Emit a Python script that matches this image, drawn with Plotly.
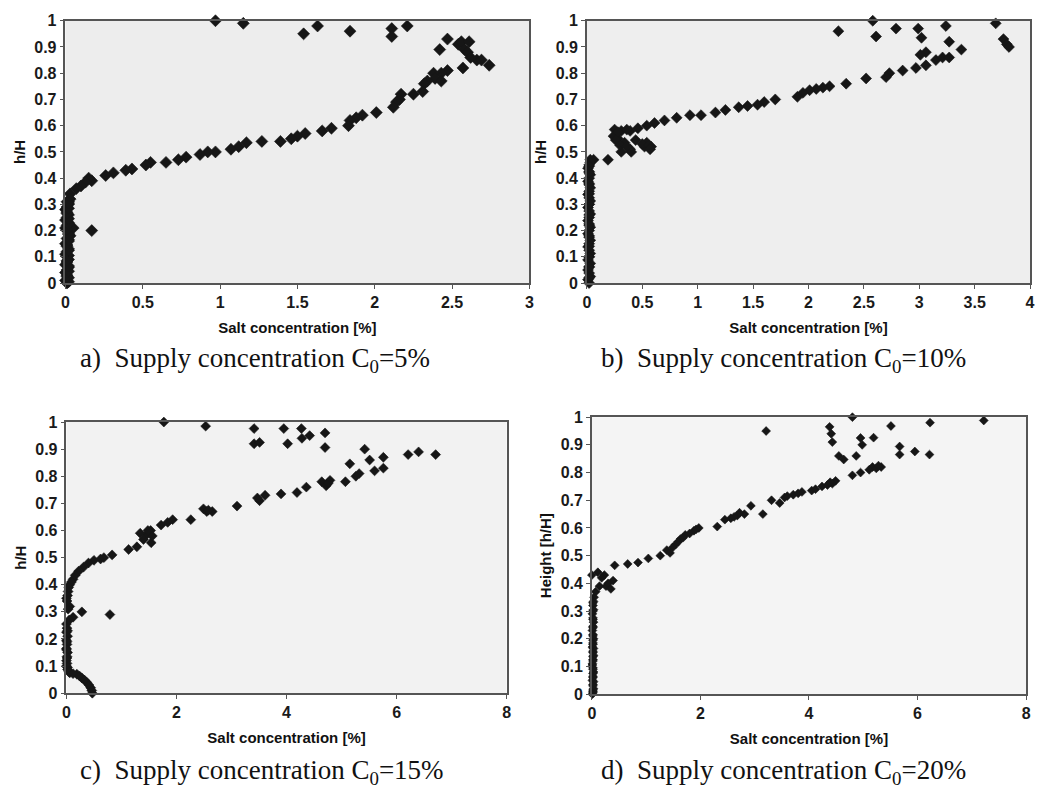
import plotly.graph_objects as go

# ---------------- data ----------------
# a) C0 = 5 %
a_x = [0.97, 1.15, 1.54, 1.63, 1.84, 2.11, 2.11, 2.21, 2.47, 2.42,
       2.54, 2.56, 2.61, 2.58, 2.60, 2.57, 2.66, 2.69, 2.74, 2.62,
       2.47, 2.43, 2.38, 2.39, 2.43, 2.34, 2.32, 2.31, 2.25, 2.17, 2.16, 2.14, 2.12,
       2.01, 1.92, 1.88, 1.84, 1.83, 1.72, 1.66, 1.55, 1.50, 1.46, 1.39, 1.27, 1.17,
       1.12, 1.07, 0.97, 0.92, 0.87, 0.78, 0.73, 0.65, 0.55, 0.52, 0.43, 0.39, 0.31,
       0.26, 0.17, 0.15, 0.13, 0.10, 0.07, 0.03, 0.02,
       0.05, 0.17,
       0.01, 0.00, 0.02, 0.01, 0.00, 0.01, 0.02, 0.00, 0.01, 0.02, 0.01, 0.00, 0.01,
       0.02, 0.01, 0.00, 0.02, 0.01, 0.03, 0.02, 0.01, 0.00, 0.01, 0.02, 0.00, 0.01,
       0.02, 0.01, 0.00, 0.01, 0.02, 0.01, 0.03,
       0.02, 0.01, 0.02, 0.02, 0.01, 0.02, 0.02, 0.01, 0.02, 0.02, 0.01, 0.02, 0.02,
       0.01, 0.02, 0.02]
a_y = [1.00, 0.99, 0.95, 0.98, 0.96, 0.97, 0.94, 0.98, 0.93, 0.89,
       0.91, 0.92, 0.92, 0.89, 0.88, 0.82, 0.85, 0.85, 0.83, 0.86,
       0.81, 0.80, 0.80, 0.78, 0.77, 0.77, 0.76, 0.73, 0.72, 0.72, 0.70, 0.69, 0.67,
       0.65, 0.64, 0.63, 0.62, 0.60, 0.59, 0.58, 0.57, 0.56, 0.55, 0.54, 0.54, 0.535,
       0.52, 0.51, 0.50, 0.50, 0.49, 0.48, 0.47, 0.46, 0.46, 0.45, 0.435, 0.43, 0.42,
       0.41, 0.39, 0.40, 0.385, 0.37, 0.36, 0.34, 0.31,
       0.21, 0.20,
       0.00, 0.01, 0.02, 0.03, 0.04, 0.05, 0.06, 0.07, 0.08, 0.09, 0.10, 0.11, 0.12,
       0.13, 0.14, 0.15, 0.16, 0.17, 0.18, 0.19, 0.20, 0.21, 0.22, 0.23, 0.24, 0.25,
       0.26, 0.27, 0.28, 0.29, 0.30, 0.31, 0.32,
       0.005, 0.025, 0.045, 0.065, 0.085, 0.105, 0.125, 0.145, 0.165, 0.185, 0.205,
       0.225, 0.245, 0.265, 0.285, 0.305]

# b) C0 = 10 %
b_x = [2.27, 2.58, 2.61, 2.79, 2.99, 3.02, 3.24, 3.27, 3.38, 3.69, 3.76, 3.79, 3.81,
       3.06, 3.01,
       2.97, 3.06, 3.15, 3.21, 3.27, 2.85, 2.73, 2.70, 2.52, 2.34, 2.19, 2.13, 2.07,
       2.01, 1.95, 1.90, 1.70, 1.60, 1.54, 1.45, 1.37, 1.25, 1.16, 1.03, 0.93, 0.81,
       0.70, 0.61, 0.54, 0.46, 0.39, 0.31, 0.25, 0.24, 0.28, 0.34, 0.39, 0.40, 0.54,
       0.58, 0.52, 0.31, 0.19, 0.06, 0.03,
       0.36, 0.28, 0.26, 0.30, 0.36, 0.44, 0.50, 0.56, 0.57,
       0.02, 0.01, 0.03, 0.02, 0.01, 0.02, 0.03, 0.01, 0.02, 0.03, 0.02, 0.01, 0.02,
       0.03, 0.02, 0.01, 0.02, 0.03, 0.02, 0.01, 0.02, 0.03, 0.02, 0.01, 0.02, 0.03,
       0.02, 0.01, 0.02, 0.03, 0.02, 0.01, 0.02, 0.03, 0.02, 0.01, 0.02, 0.03,
       0.02, 0.02, 0.02, 0.02, 0.02, 0.02, 0.02, 0.02, 0.02, 0.02, 0.02, 0.02]
b_y = [0.96, 1.00, 0.94, 0.97, 0.97, 0.935, 0.98, 0.92, 0.89, 0.99, 0.93, 0.91, 0.90,
       0.88, 0.87,
       0.82, 0.83, 0.85, 0.86, 0.86, 0.81, 0.80, 0.785, 0.78, 0.76, 0.75, 0.745, 0.74,
       0.735, 0.725, 0.71, 0.70, 0.69, 0.68, 0.675, 0.67, 0.66, 0.65, 0.64, 0.64, 0.63,
       0.62, 0.61, 0.60, 0.59, 0.58, 0.58, 0.585, 0.56, 0.55, 0.535, 0.51, 0.50, 0.535,
       0.52, 0.52, 0.50, 0.47, 0.47, 0.47,
       0.585, 0.575, 0.545, 0.525, 0.52, 0.545, 0.53, 0.525, 0.51,
       0.00, 0.013, 0.025, 0.038, 0.05, 0.063, 0.075, 0.088, 0.10, 0.113, 0.125, 0.138,
       0.15, 0.163, 0.175, 0.188, 0.20, 0.213, 0.225, 0.238, 0.25, 0.263, 0.275, 0.288,
       0.30, 0.313, 0.325, 0.338, 0.35, 0.363, 0.375, 0.388, 0.40, 0.413, 0.425, 0.438,
       0.45, 0.46,
       0.02, 0.06, 0.1, 0.14, 0.18, 0.22, 0.26, 0.30, 0.34, 0.38, 0.42, 0.445]

# c) C0 = 15 %
c_x = [1.77, 2.53, 3.41, 3.41, 3.51, 3.95, 4.02, 4.27, 4.28, 4.42, 4.70, 4.70,
       5.42, 5.51, 5.15, 5.60, 5.76, 5.76, 6.21, 6.40, 6.71,
       5.32, 5.26, 5.07, 4.79, 4.73, 4.64, 4.36, 4.19, 3.90, 3.61, 3.51, 3.47, 3.10,
       2.65, 2.55, 2.49, 2.26, 1.93, 1.84, 1.72, 1.53, 1.46, 1.34, 1.54, 1.40, 1.28,
       1.13, 0.83, 0.62, 0.50, 0.40, 0.31, 0.22, 0.12, 0.06, 0.03, 0.00, 0.06, 0.28,
       0.12, 0.79,
       0.00, 0.01, 0.00, 0.02, 0.00, 0.01, 0.00, 0.02, 0.01, 0.00, 0.01, 0.00, 0.02,
       0.06, 0.19, 0.28, 0.37, 0.44, 0.47,
       0.16, 0.09, 0.04, 0.02, 0.01, 0.03, 0.05, 0.02, 0.01, 0.00, 0.01, 0.02, 0.04,
       0.12, 0.24, 0.33, 0.41, 0.46, 0.68, 1.56, 1.48, 2.58, 4.72, 4.76]
c_y = [1.00, 0.985, 0.976, 0.92, 0.925, 0.976, 0.92, 0.976, 0.94, 0.95, 0.96, 0.906,
       0.90, 0.86, 0.846, 0.82, 0.83, 0.87, 0.88, 0.89, 0.88,
       0.81, 0.80, 0.78, 0.785, 0.77, 0.78, 0.76, 0.74, 0.735, 0.73, 0.71, 0.72, 0.69,
       0.67, 0.67, 0.68, 0.64, 0.64, 0.63, 0.62, 0.60, 0.585, 0.59, 0.555, 0.567, 0.54,
       0.53, 0.51, 0.495, 0.49, 0.48, 0.465, 0.45, 0.42, 0.40, 0.375, 0.35, 0.32, 0.30,
       0.28, 0.29,
       0.255, 0.24, 0.225, 0.21, 0.195, 0.18, 0.165, 0.15, 0.135, 0.12, 0.11, 0.10, 0.087,
       0.075, 0.07, 0.056, 0.04, 0.02, 0.00,
       0.435, 0.41, 0.39, 0.36, 0.34, 0.31, 0.27, 0.23, 0.19, 0.16, 0.13, 0.095, 0.08,
       0.072, 0.063, 0.048, 0.03, 0.01, 0.5, 0.58, 0.6, 0.675, 0.765, 0.775]

# d) C0 = 20 %
d_x = [3.21, 4.80, 4.38, 4.41, 4.43, 4.95, 4.98, 5.19, 5.51, 5.67, 5.67, 5.95, 6.22,
       6.23, 7.22, 4.55, 4.64, 4.87,
       5.33, 5.17, 5.11, 4.95, 4.80, 4.49, 4.43, 4.24, 4.05, 3.87, 3.71, 3.55, 3.46,
       3.31, 3.15, 2.93, 2.81, 2.68, 2.56, 2.31, 1.97, 1.88, 1.72, 1.63, 1.54, 1.38,
       1.26, 1.04, 0.85, 0.66, 0.42, 0.39, 0.26, 0.23, 0.11, 0.00, 0.14, 0.07, 0.04,
       0.03, 0.02, 0.03, 0.01, 0.02, 0.03, 0.02, 0.01, 0.02, 0.03, 0.02, 0.01, 0.02,
       0.03, 0.02, 0.01, 0.02, 0.03, 0.02, 0.01, 0.02, 0.03, 0.02, 0.01, 0.02, 0.03,
       0.02, 0.01, 0.02, 0.03, 0.02,
       1.92, 1.80, 1.68, 1.59, 1.49, 1.44, 2.45, 2.62, 2.72, 3.60, 3.80, 4.12, 4.34,
       4.39, 5.24, 5.28, 0.30, 0.35, 0.18,
       0.02, 0.02, 0.02, 0.02, 0.02, 0.02, 0.02, 0.02, 0.02, 0.02, 0.02, 0.02]
d_y = [0.95, 1.00, 0.965, 0.94, 0.91, 0.925, 0.90, 0.926, 0.968, 0.894, 0.865, 0.876,
       0.865, 0.98, 0.988, 0.86, 0.847, 0.86,
       0.82, 0.82, 0.81, 0.80, 0.79, 0.77, 0.76, 0.75, 0.735, 0.73, 0.72, 0.71, 0.69,
       0.70, 0.65, 0.68, 0.65, 0.645, 0.635, 0.605, 0.60, 0.59, 0.575, 0.56, 0.54, 0.52,
       0.50, 0.49, 0.475, 0.47, 0.465, 0.41, 0.39, 0.43, 0.44, 0.43, 0.39, 0.37, 0.35,
       0.335, 0.32, 0.305, 0.29, 0.275, 0.26, 0.245, 0.23, 0.215, 0.20, 0.185, 0.17,
       0.155, 0.14, 0.125, 0.11, 0.095, 0.08, 0.065, 0.05, 0.035, 0.02, 0.01, 0.00,
       0.015, 0.045, 0.075, 0.105, 0.135, 0.165, 0.195,
       0.595, 0.58, 0.565, 0.55, 0.53, 0.51, 0.63, 0.64, 0.655, 0.715, 0.725, 0.74, 0.755,
       0.765, 0.815, 0.825, 0.40, 0.38, 0.42,
       0.005, 0.03, 0.06, 0.09, 0.12, 0.15, 0.18, 0.21, 0.24, 0.27, 0.30, 0.33]

y_ticks = [0, 0.1, 0.2, 0.3, 0.4, 0.5, 0.6, 0.7, 0.8, 0.9, 1]
y_tick_text = ["0", "0.1", "0.2", "0.3", "0.4", "0.5", "0.6", "0.7", "0.8", "0.9", "1"]
xa_ticks = [0, 0.5, 1, 1.5, 2, 2.5, 3]
xb_ticks = [0, 0.5, 1, 1.5, 2, 2.5, 3, 3.5, 4]
xcd_ticks = [0, 2, 4, 6, 8]

y_titles = ["h/H", "h/H", "h/H", "Height [h/H]"]
x_title = "Salt concentration [%]"
captions = ["a)  Supply concentration C<sub>0</sub>=5%",
            "b)  Supply concentration C<sub>0</sub>=10%",
            "c)  Supply concentration C<sub>0</sub>=15%",
            "d)  Supply concentration C<sub>0</sub>=20%"]

# ---------------- figure ----------------
W, H = 1043, 804
def px(v):
    return v / W
def py(v):
    return 1 - v / H

panels = [
    # x data, y data, x range, x ticks, x domain(px), y domain(px top,bottom), marker size, bg
    (a_x, a_y, [0, 3], xa_ticks, (62, 530), (13, 281), 9.2, "#ededed"),
    (b_x, b_y, [0, 4], xb_ticks, (588, 1035), (13, 281), 8.4, "#eeeeee"),
    (c_x, c_y, [0, 8], xcd_ticks, (63, 507), (423, 700), 7.6, "#f2f2f2"),
    (d_x, d_y, [0, 8], xcd_ticks, (593, 1031), (418, 701), 6.8, "#f4f4f4"),
]

fig = go.Figure()
xtick_font = dict(family="Liberation Sans, Arial", size=16, color="#1a1a1a", weight="bold")
ytick_font = dict(family="Liberation Sans, Arial", size=16, color="#1a1a1a", weight="bold")
title_font = dict(family="Liberation Sans Narrow, Liberation Sans, Arial", size=15,
                  color="#111", weight="bold")

for i, (xs, ys, xr, xt, xd, yd, ms, bg) in enumerate(panels):
    n = "" if i == 0 else str(i + 1)
    fig.add_trace(go.Scatter(
        x=xs, y=ys, mode="markers", xaxis="x" + n, yaxis="y" + n,
        cliponaxis=False, showlegend=False,
        marker=dict(symbol="diamond", size=ms, color="#161616",
                    line=dict(width=0.6, color="#161616")),
    ))
    fig.update_layout(**{
        "xaxis" + n: dict(
            domain=[px(xd[0]), px(xd[1])], range=xr, tickvals=xt,
            ticktext=["%g" % v for v in xt],
            anchor="y" + n, showgrid=False, zeroline=False,
            showline=True, linecolor="#555", linewidth=1.5, mirror=True,
            ticks="outside", ticklen=4, tickcolor="#555", tickwidth=1.2,
            tickfont=xtick_font,
            title=dict(text=x_title, font=title_font, standoff=12),
        ),
        "yaxis" + n: dict(
            domain=[py(yd[1]), py(yd[0])], range=[0, 1], tickvals=y_ticks,
            ticktext=y_tick_text,
            anchor="x" + n, showgrid=False, zeroline=False,
            showline=True, linecolor="#555", linewidth=1.5, mirror=True,
            ticks="outside", ticklen=4, tickcolor="#555", tickwidth=1.2,
            tickfont=ytick_font,
            title=dict(text=y_titles[i], font=title_font, standoff=5),
        ),
    })
    # plot-area background
    fig.add_shape(type="rect", xref="paper", yref="paper", layer="below",
                  x0=px(xd[0]), x1=px(xd[1]), y0=py(yd[1]), y1=py(yd[0]),
                  fillcolor=bg, line=dict(width=0))

cap_pos = [(75, 360), (600, 360), (75, 780), (600, 780)]
for (cx, cy), txt in zip(cap_pos, captions):
    fig.add_annotation(x=px(cx), y=py(cy), xref="paper", yref="paper",
                       text=txt, showarrow=False, xanchor="left", yanchor="middle",
                       font=dict(family="Liberation Serif, Times New Roman", size=27,
                                 color="#111"))

fig.update_layout(width=W, height=H, margin=dict(l=0, r=0, t=0, b=0),
                  paper_bgcolor="white", plot_bgcolor="rgba(0,0,0,0)")

fig.write_html("out.html")
